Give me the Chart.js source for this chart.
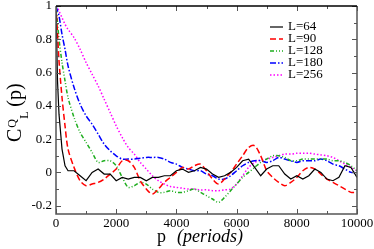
<!DOCTYPE html>
<html>
<head>
<meta charset="utf-8">
<script src="https://cdn.jsdelivr.net/npm/chart.js"></script>
<style>
  html, body { margin: 0; padding: 0; background: #fff; }
  #wrap { width: 374px; height: 249px; }
</style>
</head>
<body>
<div id="wrap"><canvas id="corr-chart" width="374" height="249"></canvas></div>
<script>
    // data
    var periods = [0, 50, 100, 200, 300,
        400, 600, 800, 1000, 1200, 1400, 1600, 1800, 2000,
        2200, 2400, 2600, 2800, 3000, 3200, 3400, 3600, 3800, 4000,
        4200, 4400, 4600, 4800, 5000, 5200, 5400, 5600, 5800, 6000,
        6200, 6400, 6600, 6800, 7000, 7200, 7400, 7600, 7800, 8000,
        8200, 8400, 8600, 8800, 9000, 9200, 9400, 9600, 9800, 10000];

    var seriesLabels = ['L=64', 'L=90', 'L=128', 'L=180', 'L=256'];

    var l64 = [1, 0.55, 0.35, 0.14, 0.04,
        0.01, 0.01, -0.02, -0.05, 0.0, 0.02, -0.01, -0.01, -0.05,
        -0.03, -0.04, -0.03, -0.03, -0.05, -0.03, -0.03, -0.02, -0.02, 0.01,
        0.02, 0.0, 0.01, 0.03, 0.02, -0.01, -0.03, -0.02, 0.0, 0.03,
        0.07, 0.08, 0.03, -0.02, 0.02, 0.04, 0.04, -0.01, -0.04, -0.02,
        -0.04, -0.02, 0.02, 0.0, -0.04, -0.05, -0.03, 0.04, 0.03, -0.03];

    var l90 = [1, 0.84, 0.67, 0.45, 0.28,
        0.14, 0.03, -0.05, -0.08, -0.07, -0.06, -0.04, -0.01, 0.02,
        0.07, 0.07, 0.03, -0.05, -0.10, -0.13, -0.10, -0.06, -0.03, 0.0,
        0.03, 0.02, 0.04, 0.05, 0.01, -0.04, -0.07, -0.04, 0.0, 0.05,
        0.10, 0.15, 0.16, 0.10, 0.01, -0.03, -0.06, -0.08, -0.06, -0.03,
        0.01, 0.03, 0.02, -0.01, -0.04, -0.06, -0.08, -0.10, -0.12, -0.12];

    var l128 = [1, 0.9, 0.8, 0.66, 0.55,
        0.45, 0.33, 0.24, 0.18, 0.12, 0.06, 0.07, 0.07, 0.04,
        -0.03, -0.09, -0.08, -0.06, -0.07, -0.10, -0.12, -0.12, -0.11, -0.12,
        -0.12, -0.11, -0.10, -0.12, -0.14, -0.16, -0.18, -0.15, -0.11, -0.07,
        -0.03, 0.0, 0.03, 0.06, 0.08, 0.10, 0.10, 0.09, 0.07, 0.07,
        0.08, 0.08, 0.08, 0.08, 0.08, 0.07, 0.07, 0.06, 0.04, 0.01];

    var l180 = [1, 0.97, 0.94, 0.83, 0.74,
        0.64, 0.51, 0.41, 0.34, 0.29, 0.23, 0.17, 0.13, 0.10,
        0.08, 0.08, 0.08, 0.085, 0.09, 0.09, 0.09, 0.08, 0.06, 0.05,
        0.03, 0.02, 0.01, 0.01, -0.01, -0.02, -0.04, -0.04, -0.02, 0.01,
        0.04, 0.06, 0.07, 0.07, 0.06, 0.07, 0.09, 0.08, 0.07, 0.06,
        0.07, 0.07, 0.07, 0.08, 0.07, 0.05, 0.04, 0.02, 0.0, 0.0];

    var l256 = [1, 0.99, 0.97, 0.93, 0.89,
        0.86, 0.81, 0.74, 0.66, 0.59, 0.52, 0.44, 0.36, 0.28,
        0.21, 0.15, 0.11, 0.06, 0.02, -0.02, -0.05, -0.07, -0.085, -0.09,
        -0.095, -0.10, -0.10, -0.105, -0.105, -0.11, -0.11, -0.105, -0.10, -0.07,
        -0.02, 0.03, 0.06, 0.075, 0.08, 0.09, 0.10, 0.11, 0.11, 0.115,
        0.115, 0.115, 0.11, 0.105, 0.10, 0.09, 0.07, 0.05, 0.03, 0.01];

    var xTicks = [0, 2000, 4000, 6000, 8000, 10000];
    var yTicks = [-0.2, 0, 0.2, 0.4, 0.6, 0.8, 1];

    function pts(arr) {
        return periods.map(function (p, i) { return { x: p, y: arr[i] }; });
    }

    var serif = '"Liberation Serif", "DejaVu Serif", serif';

    var data = {
        datasets: [
            { label: seriesLabels[0], data: pts(l64), borderColor: '#000000', borderWidth: 1.2, tension: 0 },
            { label: seriesLabels[1], data: pts(l90), borderColor: '#ff0000', borderWidth: 1.5, borderDash: [6, 3], tension: 0.3 },
            { label: seriesLabels[2], data: pts(l128), borderColor: '#1fae1f', borderWidth: 1.5, borderDash: [4, 2, 1, 2, 1, 2], tension: 0.3 },
            { label: seriesLabels[3], data: pts(l180), borderColor: '#0000ff', borderWidth: 1.5, borderDash: [6, 2, 1.5, 2], tension: 0.3 },
            { label: seriesLabels[4], data: pts(l256), borderColor: '#ff00ff', borderWidth: 1.5, borderDash: [1.5, 2], tension: 0.3 }
        ]
    };

    // frame, inside ticks, legend and axis titles
    var decor = {
        id: 'decor',
        afterDraw: function (chart) {
            var c = chart.ctx, a = chart.chartArea;
            var xs = chart.scales.x, ys = chart.scales.y;
            c.save();

            // ticks pointing inward, on all four sides
            c.strokeStyle = '#555';
            c.lineWidth = 1;
            c.beginPath();
            for (var p = 0; p <= 10000; p += 1000) {
                var px = Math.round(xs.getPixelForValue(p)) + 0.5;
                var len = (p % 2000 === 0) ? 5 : 3;
                c.moveTo(px, a.bottom); c.lineTo(px, a.bottom - len);
                c.moveTo(px, a.top); c.lineTo(px, a.top + len);
            }
            for (var k = -2; k <= 10; k++) {
                var py = Math.round(ys.getPixelForValue(k / 10)) + 0.5;
                var l2 = (k % 2 === 0) ? 5 : 3;
                c.moveTo(a.left, py); c.lineTo(a.left + l2, py);
                c.moveTo(a.right, py); c.lineTo(a.right - l2, py);
            }
            c.stroke();

            // frame
            c.lineWidth = 1.5;
            c.strokeStyle = '#555';
            c.beginPath();
            c.moveTo(a.left, a.top); c.lineTo(a.left, a.bottom);
            c.lineTo(a.right, a.bottom); c.lineTo(a.right, a.top);
            c.stroke();
            c.strokeStyle = '#000';
            c.beginPath();
            c.moveTo(a.left, a.top); c.lineTo(a.right, a.top);
            c.stroke();

            // legend
            c.font = '13px ' + serif;
            c.textBaseline = 'middle';
            c.fillStyle = '#000';
            chart.data.datasets.forEach(function (ds, i) {
                var y = 27 + i * 12;
                c.strokeStyle = ds.borderColor;
                c.lineWidth = ds.borderWidth;
                c.setLineDash(ds.borderDash || []);
                c.beginPath();
                c.moveTo(270, y); c.lineTo(283, y);
                c.stroke();
                c.setLineDash([]);
                c.fillText(ds.label, 288, y);
            });

            // x title
            c.textBaseline = 'alphabetic';
            c.font = '18px ' + serif;
            c.fillText('p', 157, 242);
            c.font = 'italic 18px ' + serif;
            c.fillText('(periods)', 177, 242);

            // y title, rotated
            c.translate(21, 142);
            c.rotate(-Math.PI / 2);
            c.font = '20px ' + serif;
            c.fillText('C', 0, 0);
            var w = c.measureText('C').width;
            c.font = '12px ' + serif;
            c.fillText('Q', w + 1, -5);
            c.fillText('L', w + 10, 7);
            c.font = '20px ' + serif;
            c.fillText('(p)', w + 22, 0);

            c.restore();
        }
    };

    var options = {
        responsive: false,
        animation: false,
        events: [],
        layout: { padding: { left: 0, right: 17, top: 6, bottom: 0 } },
        elements: { point: { radius: 0 } },
        plugins: { legend: { display: false }, tooltip: { enabled: false } },
        scales: {
            x: {
                type: 'linear', min: 0, max: 10000,
                grid: { display: false, drawTicks: false },
                border: { display: false },
                afterBuildTicks: function (s) { s.ticks = xTicks.map(function (v) { return { value: v }; }); },
                afterFit: function (s) { s.height = 35; s.paddingLeft = 0; s.paddingRight = 0; },
                ticks: {
                    maxRotation: 0, padding: 2, color: '#000',
                    font: { family: serif, size: 13 },
                    callback: function (v) { return String(v); }
                }
            },
            y: {
                type: 'linear', min: -0.25, max: 1,
                grid: { display: false, drawTicks: false },
                border: { display: false },
                afterBuildTicks: function (s) { s.ticks = yTicks.map(function (v) { return { value: v }; }); },
                afterFit: function (s) { s.width = 56; s.paddingTop = 0; s.paddingBottom = 0; },
                ticks: {
                    padding: 4, color: '#000',
                    font: { family: serif, size: 13 },
                    callback: function (v) { return String(Math.round(v * 10) / 10); }
                }
            }
        }
    };

    var ctx = document.getElementById('corr-chart').getContext('2d');
    var myChart = new Chart(ctx, {
        type: 'line',
        data: data,
        options: options,
        plugins: [decor]
    });
</script>
</body>
</html>
